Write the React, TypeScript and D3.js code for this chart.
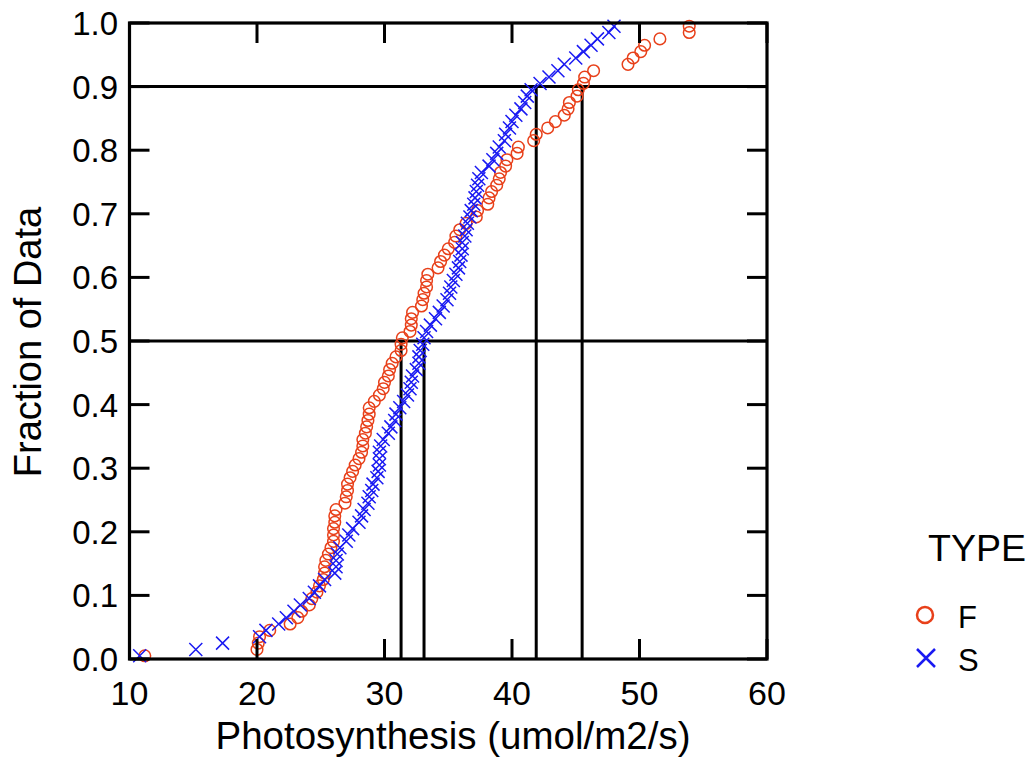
import React from "react";
import * as d3 from "d3";

// Sorted photosynthesis values, 100 per type
const typeF = [
  11.2, 20.0, 20.1, 20.2, 21.0, 22.6, 23.2, 23.5, 24.1, 24.3,
  24.7, 24.9, 25.2, 25.3, 25.3, 25.4, 25.6, 25.8, 26.0, 26.0,
  26.0, 26.1, 26.1, 26.2, 26.9, 27.0, 27.1, 27.1, 27.3, 27.5,
  27.7, 28.0, 28.2, 28.3, 28.3, 28.5, 28.6, 28.7, 28.8, 28.8,
  29.2, 29.6, 29.9, 30.0, 30.3, 30.4, 30.6, 30.9, 31.3, 31.3,
  31.4, 32.0, 32.1, 32.1, 32.2, 32.9, 33.0, 33.1, 33.3, 33.3,
  33.4, 34.2, 34.4, 34.7, 35.0, 35.5, 35.6, 35.9, 36.4, 37.2,
  37.3, 38.1, 38.2, 38.4, 38.8, 39.0, 39.1, 39.5, 39.6, 40.4,
  40.5, 41.7, 41.9, 42.8, 43.4, 44.1, 44.4, 44.5, 45.1, 45.2,
  45.6, 45.7, 46.4, 49.1, 49.5, 50.1, 50.4, 51.6, 53.9, 53.9,
];

const typeS = [
  10.8, 15.2, 17.3, 20.2, 20.7, 21.7, 22.3, 22.9, 23.4, 24.1,
  24.5, 24.9, 25.3, 26.1, 26.2, 26.2, 26.3, 26.5, 27.0, 27.2,
  27.5, 28.0, 28.2, 28.4, 28.7, 28.8, 29.0, 29.1, 29.4, 29.5,
  29.6, 29.6, 29.6, 29.7, 29.9, 30.3, 30.5, 30.8, 30.9, 31.2,
  31.5, 31.8, 32.0, 32.1, 32.2, 32.5, 32.7, 32.7, 32.8, 33.0,
  33.1, 33.3, 33.6, 34.0, 34.3, 34.6, 34.9, 35.1, 35.2, 35.4,
  35.6, 35.8, 35.9, 36.0, 36.1, 36.1, 36.3, 36.4, 36.5, 36.7,
  36.8, 37.0, 37.1, 37.2, 37.3, 37.4, 37.6, 38.2, 38.5, 38.8,
  39.0, 39.4, 39.5, 39.8, 40.0, 40.3, 40.7, 41.0, 41.2, 41.5,
  42.2, 42.9, 43.6, 44.1, 45.0, 45.6, 46.2, 46.7, 47.6, 48.0,
];

// Guide lines: fraction levels and where each type crosses them
const guideLevels = [0.5, 0.9];
const guideDrops = [
  { x: 31.3, level: 0.5 },
  { x: 33.1, level: 0.5 },
  { x: 41.9, level: 0.9 },
  { x: 45.5, level: 0.9 },
];

const xTicks = [10, 20, 30, 40, 50, 60];
const yTicks = [0, 0.1, 0.2, 0.3, 0.4, 0.5, 0.6, 0.7, 0.8, 0.9, 1.0];

const RED = "#e8401a";
const BLUE = "#1a1af2";
const FONT = "'Liberation Sans', Arial, Helvetica, sans-serif";

export default function App() {
  const width = 1029;
  const height = 763;
  const left = 129.5;
  const right = 767;
  const top = 23;
  const bottom = 659;

  const x = d3.scaleLinear().domain([10, 60]).range([left, right]);
  const y = d3.scaleLinear().domain([0, 1]).range([bottom, top]);

  const frac = (i: number, n: number) => (i + 0.5) / n;
  const tick = 20;

  const cross = (cx: number, cy: number, s: number) =>
    `M${cx - s},${cy - s}L${cx + s},${cy + s}M${cx - s},${cy + s}L${cx + s},${cy - s}`;

  return (
    <svg
      width={width}
      height={height}
      style={{ position: "absolute", left: 0, top: 0, background: "#fff" }}
      fontFamily={FONT}
    >
      {/* Guide lines */}
      {guideLevels.map((l) => (
        <line key={"h" + l} x1={left} x2={right} y1={y(l)} y2={y(l)} stroke="#000" strokeWidth={3} />
      ))}
      {guideDrops.map((d) => (
        <line key={"v" + d.x} x1={x(d.x)} x2={x(d.x)} y1={y(0)} y2={y(d.level)} stroke="#000" strokeWidth={3} />
      ))}

      {/* Points */}
      {typeF.map((v, i) => (
        <circle key={"f" + i} cx={x(v)} cy={y(frac(i, typeF.length))} r={5.8} fill="none" stroke={RED} strokeWidth={1.5} />
      ))}
      {typeS.map((v, i) => (
        <path key={"s" + i} d={cross(x(v), y(frac(i, typeS.length)), 6.5)} fill="none" stroke={BLUE} strokeWidth={1.5} />
      ))}

      {/* Frame and ticks */}
      <rect x={left} y={top} width={right - left} height={bottom - top} fill="none" stroke="#000" strokeWidth={3.2} />
      {xTicks.map((t) => (
        <g key={"xt" + t}>
          <line x1={x(t)} x2={x(t)} y1={bottom} y2={bottom - tick} stroke="#000" strokeWidth={3} />
          <line x1={x(t)} x2={x(t)} y1={top} y2={top + tick} stroke="#000" strokeWidth={3} />
          <text x={x(t)} y={705} textAnchor="middle" fontSize={34} fill="#000">
            {t}
          </text>
        </g>
      ))}
      {yTicks.map((t) => (
        <g key={"yt" + t}>
          <line x1={left} x2={left + tick} y1={y(t)} y2={y(t)} stroke="#000" strokeWidth={3} />
          <line x1={right} x2={right - tick} y1={y(t)} y2={y(t)} stroke="#000" strokeWidth={3} />
          <text x={118} y={y(t) + 12} textAnchor="end" fontSize={33} fill="#000">
            {t.toFixed(1)}
          </text>
        </g>
      ))}

      {/* Axis titles */}
      <text x={453} y={749} textAnchor="middle" fontSize={38.5} fill="#000">
        Photosynthesis (umol/m2/s)
      </text>
      <text transform={`translate(41,342) rotate(-90)`} textAnchor="middle" fontSize={38} fill="#000">
        Fraction of Data
      </text>

      {/* Legend */}
      <text x={928} y={561} fontSize={37.5} fill="#000">
        TYPE
      </text>
      <circle cx={925} cy={615} r={8} fill="none" stroke={RED} strokeWidth={2.5} />
      <text x={958} y={628} fontSize={31} fill="#000">
        F
      </text>
      <path d={cross(926, 658, 9)} fill="none" stroke={BLUE} strokeWidth={2.5} />
      <text x={958} y={671} fontSize={31} fill="#000">
        S
      </text>
    </svg>
  );
}
